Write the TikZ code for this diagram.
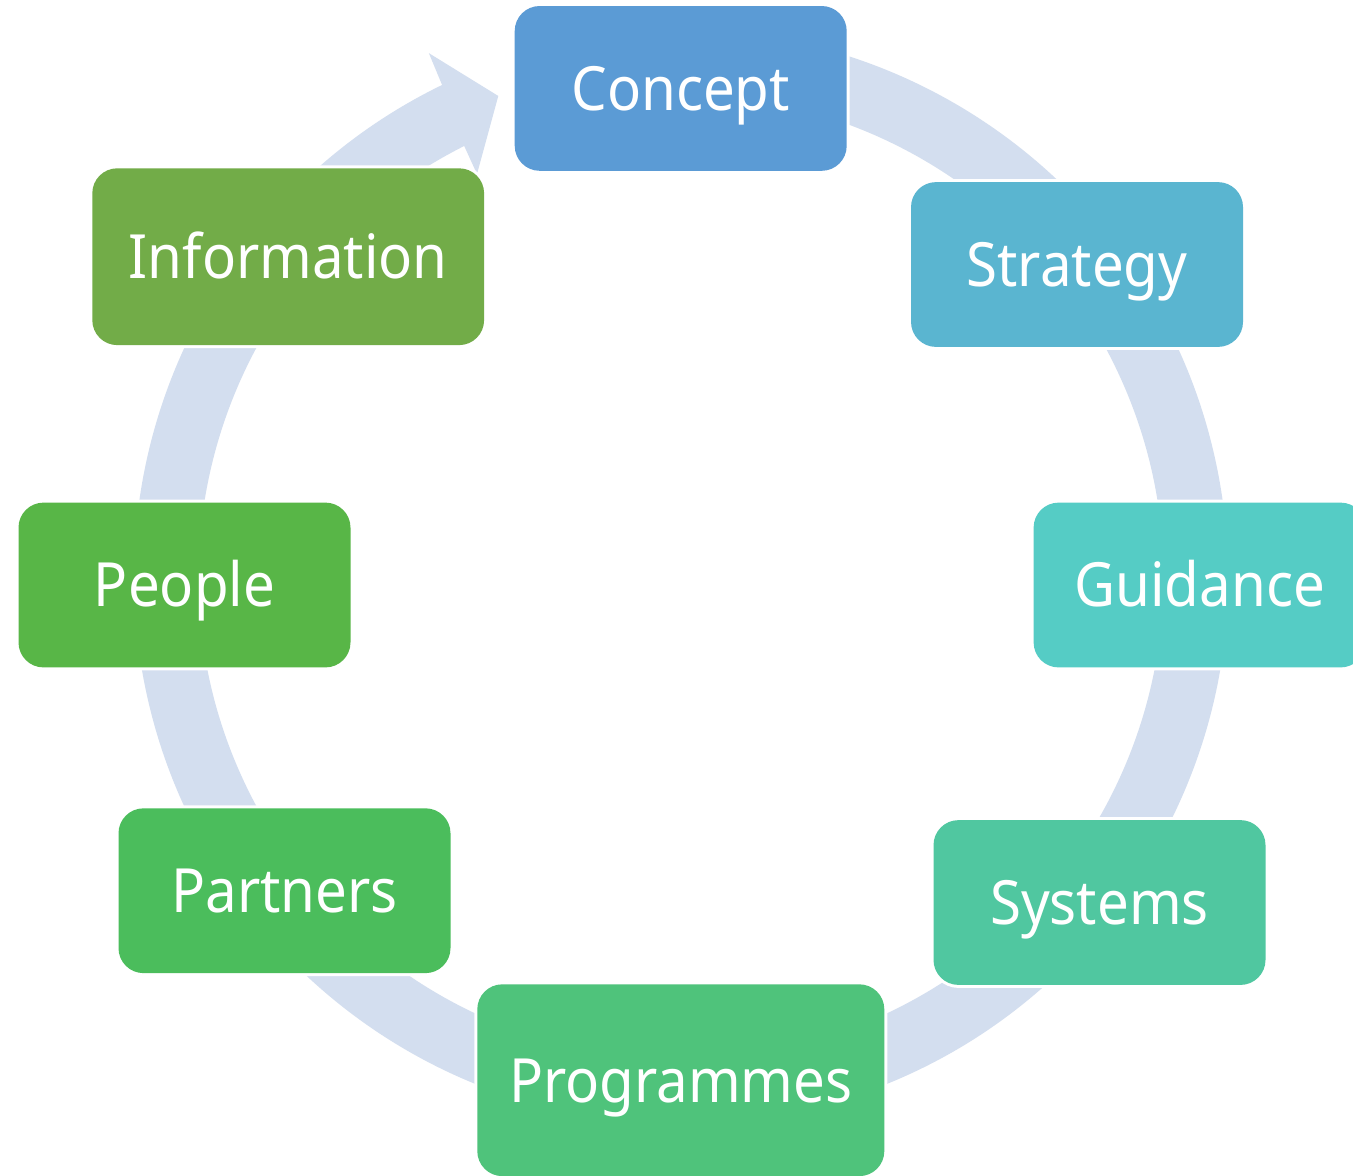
\documentclass[tikz,border=0pt]{standalone}
\usepackage{fontspec}
\setmainfont[FakeStretch=0.925]{Noto Sans}
\definecolor{ringc}{HTML}{D3DEEF}
\definecolor{cConcept}{HTML}{5B9BD5}
\definecolor{cStrategy}{HTML}{5AB5D0}
\definecolor{cGuidance}{HTML}{55CCC5}
\definecolor{cSystems}{HTML}{50C7A0}
\definecolor{cProgrammes}{HTML}{4FC37B}
\definecolor{cPartners}{HTML}{4BBD5C}
\definecolor{cPeople}{HTML}{58B647}
\definecolor{cInformation}{HTML}{72AC48}
\begin{document}
\begin{tikzpicture}[x=0.5pt,y=-0.5pt,
  cyclebox/.style={rectangle, rounded corners=12.5pt, fill=#1,
    preaction={draw=white, line width=3pt},
    inner sep=0pt, text=white,
    font=\fontsize{30.5pt}{36pt}\selectfont,
    text height=21.8pt, text depth=0pt,
    minimum width=166pt, minimum height=82.4pt}]
\clip (0,0) rectangle (1353,1175);
\fill[white] (0,0) rectangle (1353,1175);
% circular arrow
\begin{scope}[shift={(681,577)}]
\fill[ringc] (-100:547) arc[start angle=-100, end angle=244.1, radius=547]
  -- (244.3:581.4) -- (249.2:514.6) -- (243.15:451.7) -- (243.3:482.5)
  arc[start angle=243.3, end angle=-100, radius=482.5] -- cycle;
\end{scope}
% boxes
\node[cyclebox=cConcept] (concept) at (680.7,88.4) {Concept};
\node[cyclebox=cStrategy] (strategy) at (1077,264.5) {Strategy};
\node[cyclebox=cGuidance] (guidance) at (1199.6,585) {Guidance};
\node[cyclebox=cSystems] (systems) at (1099.5,902.5) {Systems};
\node[cyclebox=cProgrammes, minimum width=203.5pt, minimum height=95.9pt] (programmes) at (680.8,1080.2) {Programmes};
\node[cyclebox=cPartners] (partners) at (284.5,890.7) {Partners};
\node[cyclebox=cPeople] (people) at (184.5,585) {People};
\node[cyclebox=cInformation, minimum width=195.9pt, minimum height=88.4pt] (information) at (288.2,256.7) {Information};
\end{tikzpicture}
\end{document}
